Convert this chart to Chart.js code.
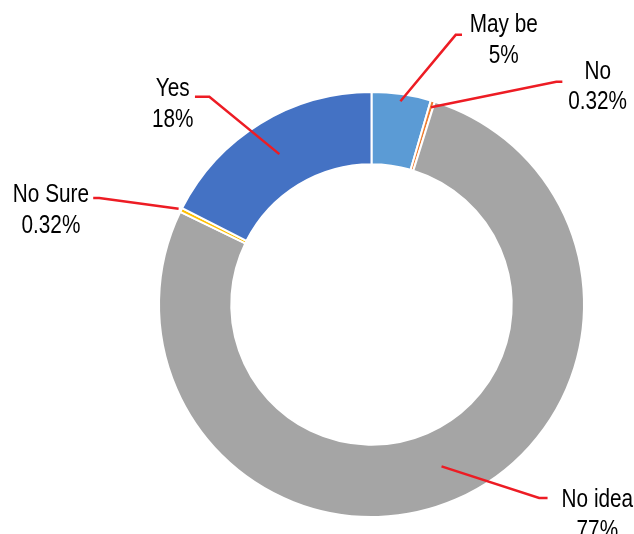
<!DOCTYPE html>
<html>
<head>
<meta charset="utf-8">
<script src="https://cdn.jsdelivr.net/npm/chart.js@4/dist/chart.umd.min.js"></script>
<style>
  html, body { margin: 0; padding: 0; background: #ffffff; }
  #wrap { width: 634px; height: 534px; position: relative; }
</style>
</head>
<body>
<div id="wrap"><canvas id="c" width="634" height="534"></canvas></div>
<script>
// ---- data ----
const categories = ["May be", "No", "No idea", "No Sure", "Yes"];
const values = [4.5, 0.32, 77.36, 0.32, 17.5];
const percentLabels = ["5%", "0.32%", "77%", "0.32%", "18%"];
const sliceColors = ["#5B9BD5", "#ED7D31", "#A5A5A5", "#FFC000", "#4472C4"];

// leader line / label placement relative to each slice (styling)
const anchorFrac = [0.9, 0.91, 0.5, 1.04, 0.5];
const elbowDX = [55.3, 125.4, 97.6, -79.4, -70];
const elbowDY = [-66.4, -25.4, 31.6, -10.7, -57.3];
const tailDX = [6.3, 6, 8.4, -6, -14.4];
const labelDX = [41.7, 35.3, 49.8, -42.3, -22.3];
const labelDY = [-9.3, -9.8, 2.5, -2.6, -7.7];
const lineGap = 30.5;
const narrow = 0.83;

const leaderPlugin = {
  id: 'leaders',
  afterDatasetsDraw(chart) {
    const ctx = chart.ctx;
    const meta = chart.getDatasetMeta(0);
    ctx.save();
    meta.data.forEach((arc, i) => {
      const p = arc.getProps(['x', 'y', 'startAngle', 'endAngle', 'innerRadius', 'outerRadius'], true);
      const mid = (p.startAngle + p.endAngle) / 2;
      const r = p.innerRadius + anchorFrac[i] * (p.outerRadius - p.innerRadius);
      const ax = p.x + Math.cos(mid) * r;
      const ay = p.y + Math.sin(mid) * r;
      const ex = ax + elbowDX[i];
      const ey = ay + elbowDY[i];
      const tx = ex + tailDX[i];
      ctx.beginPath();
      ctx.moveTo(ax, ay);
      ctx.lineTo(ex, ey);
      ctx.lineTo(tx, ey);
      ctx.strokeStyle = '#ED1C24';
      ctx.lineWidth = 2.5;
      ctx.lineJoin = 'miter';
      ctx.stroke();
      const cx = tx + labelDX[i];
      const cy = ey + labelDY[i];
      ctx.save();
      ctx.translate(cx, cy);
      ctx.scale(narrow, 1);
      ctx.fillStyle = '#000000';
      ctx.font = '25px "Liberation Sans", Arial, sans-serif';
      ctx.textAlign = 'center';
      ctx.textBaseline = 'middle';
      ctx.fillText(categories[i], 0, 0);
      ctx.fillText(percentLabels[i], 0, lineGap);
      ctx.restore();
    });
    ctx.restore();
  }
};

new Chart(document.getElementById('c'), {
  type: 'doughnut',
  data: {
    labels: categories,
    datasets: [{
      data: values,
      backgroundColor: sliceColors,
      borderColor: '#ffffff',
      borderWidth: 2
    }]
  },
  options: {
    responsive: false,
    animation: false,
    events: [],
    cutout: '66%',
    layout: { padding: { left: 158, right: 49, top: 91, bottom: 16 } },
    plugins: {
      legend: { display: false },
      tooltip: { enabled: false }
    }
  },
  plugins: [leaderPlugin]
});
</script>
</body>
</html>
